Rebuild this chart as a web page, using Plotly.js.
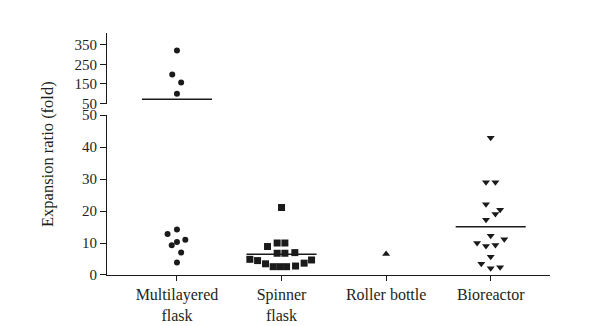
<!DOCTYPE html>
<html>
<head>
<meta charset="utf-8">
<script src="https://cdn.plot.ly/plotly-3.0.1.min.js"></script>
<style>html,body{margin:0;padding:0;background:#fff;}#chart{width:602px;height:326px;}</style>
</head>
<body>
<div id="chart"></div>
<script>
// Categories and tick labels
const categories = ["Multilayered flask", "Spinner flask", "Roller bottle", "Bioreactor"];
const tickLabels = ["Multilayered<br>flask", "Spinner<br>flask", "Roller bottle", "Bioreactor"];

// Expansion ratio (fold) per group
const multilayeredValues = [12.8, 14.2, 11.0, 10.3, 9.3, 7.0, 3.9, 320, 198, 157, 100];
const multilayeredJitter = [-0.09, 0, 0.08, 0, -0.05, 0.04, 0, 0, -0.045, 0.04, 0];

const spinnerValues = [21.1, 8.9, 10.0, 10.0, 6.8, 6.8, 7.0, 4.9, 4.5, 3.5, 2.6, 2.6, 2.6, 2.8, 3.7, 4.7];
const spinnerJitter = [0, -0.134, -0.042, 0.032, -0.042, 0.032, 0.127, -0.303, -0.229, -0.153, -0.080, -0.016, 0.048, 0.134, 0.216, 0.287];

const rollerValues = [6.6];
const rollerJitter = [0];

const bioreactorValues = [42.9, 29.0, 29.0, 22.1, 20.4, 19.1, 17.3, 12.3, 11.2, 10.0, 9.1, 9.4, 5.7, 3.5, 2.1, 2.4];
const bioreactorJitter = [0, -0.045, 0.045, -0.045, 0.09, 0.045, -0.045, 0, 0.13, -0.13, -0.045, 0.045, 0, -0.09, 0, 0.09];

// Mean lines (null = none drawn)
const meanValues = [72, 6.5, null, 15.1];

const BREAK = 50; // axis break value

const groups = [
  {values: multilayeredValues, jitter: multilayeredJitter, symbol: "circle", size: 6},
  {values: spinnerValues, jitter: spinnerJitter, symbol: "square", size: 7},
  {values: rollerValues, jitter: rollerJitter, symbol: "triangle-up", size: 7},
  {values: bioreactorValues, jitter: bioreactorJitter, symbol: "triangle-down", size: 7}
];

const ink = "#1a1a1a";
const traces = [];
groups.forEach((g, i) => {
  const lo = {x: [], y: []}, hi = {x: [], y: []};
  g.values.forEach((v, k) => {
    const t = v > BREAK ? hi : lo;
    t.x.push(i + g.jitter[k]);
    t.y.push(v);
  });
  const mk = {symbol: g.symbol, size: g.size, color: ink, line: {width: 0}};
  if (lo.x.length) traces.push({type: "scatter", mode: "markers", x: lo.x, y: lo.y, xaxis: "x", yaxis: "y", marker: mk, name: categories[i], showlegend: false});
  if (hi.x.length) traces.push({type: "scatter", mode: "markers", x: hi.x, y: hi.y, xaxis: "x", yaxis: "y2", marker: mk, name: categories[i], showlegend: false});
  const m = meanValues[i];
  if (m !== null) {
    traces.push({type: "scatter", mode: "lines", x: [i - 0.335, i + 0.335], y: [m, m], xaxis: "x", yaxis: m > BREAK ? "y2" : "y", line: {color: ink, width: 1.5}, showlegend: false});
  }
});

const font = {family: "Liberation Serif, Times New Roman, serif", size: 15, color: "#231f20"};
const xfont = {family: "Liberation Serif, Times New Roman, serif", size: 16, color: "#231f20"};
const titleFont = {family: "Liberation Serif, Times New Roman, serif", size: 16.5, color: "#231f20"};
const axisCommon = {showline: true, linecolor: ink, linewidth: 1, ticks: "outside", tickcolor: ink, tickwidth: 1, showgrid: false, zeroline: false, tickfont: font};

const layout = {
  width: 602, height: 326,
  margin: {l: 107, r: 52, t: 33, b: 51},
  paper_bgcolor: "#fff", plot_bgcolor: "#fff",
  font: font,
  showlegend: false,
  xaxis: Object.assign({}, axisCommon, {range: [-0.669, 3.567], tickmode: "array", tickvals: [0, 1, 2, 3], ticktext: tickLabels, ticklen: 5, anchor: "y", tickfont: xfont}),
  yaxis: Object.assign({}, axisCommon, {domain: [0, 0.661], range: [0, 50], tickmode: "array", tickvals: [0, 10, 20, 30, 40, 50], ticklen: 6, anchor: "x"}),
  yaxis2: Object.assign({}, axisCommon, {domain: [0.708, 1], range: [50, 409], tickmode: "array", tickvals: [50, 150, 250, 350], ticklen: 6, anchor: "x"}),
  annotations: [{
    text: "Expansion ratio (fold)", xref: "paper", yref: "paper", x: -0.1354, y: 0.5,
    xanchor: "center", yanchor: "middle", textangle: -90, showarrow: false, font: titleFont
  }]
};

Plotly.newPlot("chart", traces, layout, {staticPlot: true, displayModeBar: false});
</script>
</body>
</html>
